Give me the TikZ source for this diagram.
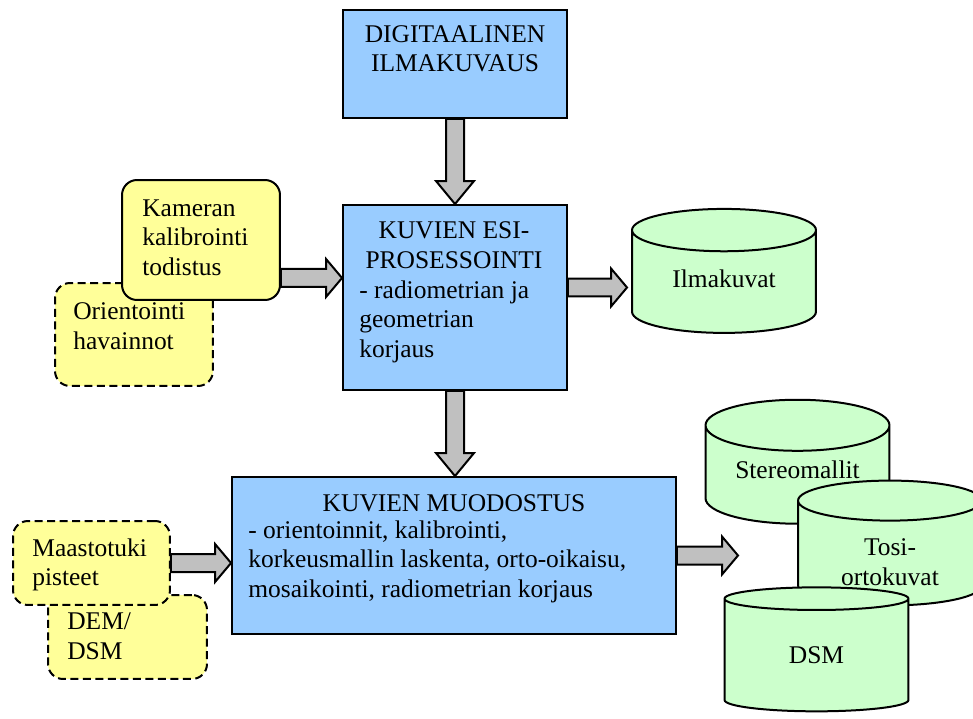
\documentclass[tikz,border=0pt]{standalone}
\usepackage{fontspec}
\setmainfont{Liberation Serif}
\usepackage{tikz}
\usetikzlibrary{positioning, calc, shapes.geometric}

\definecolor{boxblue}{HTML}{99CCFF}
\definecolor{noteyellow}{HTML}{FFFF99}
\definecolor{dbgreen}{HTML}{CCFFCC}
\definecolor{arrowgray}{HTML}{C0C0C0}

\newcommand{\rightblock}[2]{%
  \draw[blockarrow] let \p1=(#1), \p2=(#2) in
    (\x1,\y1+0.18cm) -- (\x2-0.32cm,\y1+0.18cm) -- (\x2-0.32cm,\y1+0.38cm)
    -- (\x2,\y1) -- (\x2-0.32cm,\y1-0.38cm) -- (\x2-0.32cm,\y1-0.18cm)
    -- (\x1,\y1-0.18cm) -- cycle;}
\newcommand{\downblock}[2]{%
  \draw[blockarrow] let \p1=(#1), \p2=(#2) in
    (\x1-0.18cm,\y1) -- (\x1-0.18cm,\y2+0.46cm) -- (\x1-0.38cm,\y2+0.46cm)
    -- (\x1,\y2) -- (\x1+0.38cm,\y2+0.46cm) -- (\x1+0.18cm,\y2+0.46cm)
    -- (\x1+0.18cm,\y1) -- cycle;}

\begin{document}
\begin{tikzpicture}[
  x=0.02cm, y=-0.02cm,
  font=\fontsize{14.5}{16.8}\selectfont,
  box/.style={rectangle, draw, line width=0.04cm, fill=boxblue, inner sep=0pt},
  note/.style={rectangle, draw, line width=0.04cm, rounded corners=0.3cm,
               fill=noteyellow, inner sep=0pt},
  dashnote/.style={note, dash pattern=on 0.16cm off 0.09cm},
  store/.style={cylinder, shape border rotate=90, aspect=0.41, draw,
                line width=0.04cm, fill=dbgreen, inner sep=0pt,
                minimum width=3.68cm, minimum height=2.48cm, align=center},
  txt/.style={inner sep=0pt, anchor=north west, align=left,
              execute at begin node=\strut},
  blockarrow/.style={draw, line width=0.04cm, fill=arrowgray, line join=miter}
]
\useasboundingbox (0,0) rectangle (973,719);

\node[box, minimum width=4.48cm, minimum height=2.16cm] (dig) at (455,64) {};
\node[txt, anchor=north, align=center] (digtxt) at (455,25) {DIGITAALINEN\\ILMAKUVAUS};

\node[box, minimum width=4.48cm, minimum height=3.7cm] (esi) at (455,297.5) {};
\node[txt, anchor=north, align=center] (esititle) at (454,221.4) {KUVIEN ESI-\\PROSESSOINTI};
\node[txt] (esibody) at (359,280.4) {- radiometrian ja\\geometrian\\korjaus};

\node[dashnote, minimum width=3.16cm, minimum height=2.06cm] (ori) at (134,334.5) {};
\node[txt] (oritxt) at (73,302.4) {Orientointi\\havainnot};
\node[note, minimum width=3.16cm, minimum height=2.4cm] (kam) at (201,240) {};
\node[txt] (kamtxt) at (142,199.4) {Kameran\\kalibrointi\\todistus};

\node[store] (ilm) at (724,282) {Ilmakuvat\rule[-0.12cm]{0pt}{0pt}};

\node[box, minimum width=8.88cm, minimum height=3.14cm] (muo) at (454,555.5) {};
\node[txt, anchor=north] (muotitle) at (454,490) {KUVIEN MUODOSTUS};
\node[txt] (muobody) at (248,520) {- orientoinnit, kalibrointi,\\korkeusmallin laskenta, orto-oikaisu,\\mosaikointi, radiometrian korjaus};

\node[dashnote, minimum width=3.18cm, minimum height=1.68cm] (dem) at (127.5,637) {};
\node[txt] (demtxt) at (67,612.4) {DEM/\\DSM};
\node[dashnote, minimum width=3.14cm, minimum height=1.68cm] (maa) at (91.5,563) {};
\node[txt] (maatxt) at (32,538.4) {Maastotuki\\pisteet};

\node[store] (ste) at (797.5,475) {Stereomallit\rule[-0.2cm]{0pt}{0pt}};
\node[store] (tos) at (890,553.5) {\rule{0pt}{0.68cm}Tosi-\\ortokuvat};
\node[store] (dsm) at (816.5,655.5) {DSM};
\coordinate (dbin) at (738,557);

\downblock{dig.south}{esi.north}
\rightblock{[yshift=-0.76cm]kam.east}{esi.west}
\rightblock{[yshift=0.2cm]esi.east}{[xshift=-0.08cm]ilm.west}
\downblock{esi.south}{muo.north}
\rightblock{maa.east}{muo.west}
\rightblock{muo.east}{dbin}
\end{tikzpicture}
\end{document}
